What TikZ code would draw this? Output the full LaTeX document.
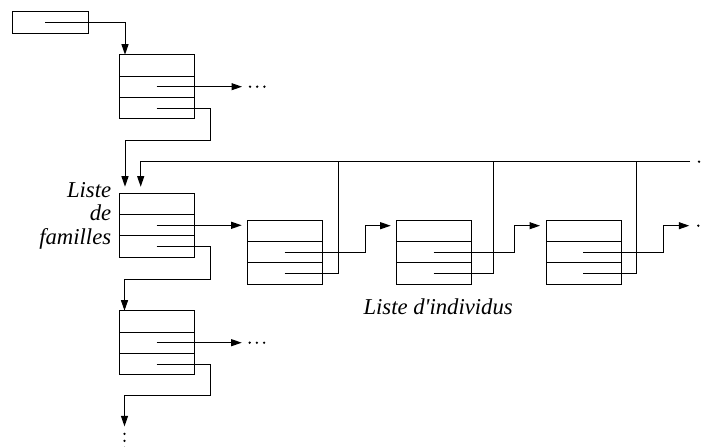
\documentclass[tikz,border=0pt]{standalone}
\usepackage{fontspec}
\setmainfont{Liberation Serif}
\usetikzlibrary{arrows.meta,calc}
\begin{document}
\begin{tikzpicture}[x=1pt,y=-1pt, line width=1pt,
 box/.style={draw, line width=1pt, minimum width=75pt, minimum height=64pt, inner sep=0pt, outer sep=0pt, anchor=north west},
 ptr/.style={-{Triangle[length=10.5pt,width=7pt]}},
 lbl/.style={font=\fontsize{22.7}{26}\selectfont\itshape, inner sep=0pt},
 dot/.style={fill, circle, inner sep=0pt, minimum size=2.6pt}]
\useasboundingbox (0,0) rectangle (704,447);

\node[draw, minimum width=76pt, minimum height=22pt, inner sep=0pt, outer sep=0pt, anchor=north west] (head) at (12,11.5) {};
\node[box] (f1) at (119.5,54.7) {};
\node[box] (f2) at (119.5,193.3) {};
\node[box] (f3) at (119.5,310.7) {};
\node[box] (i1) at (247.7,220) {};
\node[box] (i2) at (396.7,220) {};
\node[box] (i3) at (546,220) {};

\foreach \b in {f1,f2,f3,i1,i2,i3} {
  \draw ([yshift=-21.3pt]\b.north west) -- ([yshift=-21.3pt]\b.north east);
  \draw ([yshift=-42.6pt]\b.north west) -- ([yshift=-42.6pt]\b.north east);
  \coordinate (\b m) at ([shift={(37pt,-32pt)}]\b.north west);
  \coordinate (\b n) at ([shift={(37pt,-53.3pt)}]\b.north west);
}

% head pointer
\coordinate (hs) at ([xshift=-5pt]head.center);
\draw[ptr] (hs) -| ([xshift=5.5pt]f1.north west);

% family 1
\draw[ptr] (f1m) -- ++(85.5,0) coordinate (f1e);
\coordinate (f1j) at ($(f1.south east)+(15.5,21.3)$);
\draw[ptr, shorten >=6.6pt] (f1n) -| (f1j) -| ([xshift=5.5pt]f2.north west);
\foreach \d in {8,15.2,22.4} \node[dot] at ($(f1e)+(\d,0)$) {};

% top line of individuals
\coordinate (tl) at (140.7,161.7);
\coordinate (tr) at (690,161.7);
\draw[ptr, shorten >=6.6pt] (tr) -- (tl) -- (tl |- f2.north);
\node[dot] at ($(tr)+(9,0)$) {};

% family 2 -> individuals
\draw[ptr, shorten >=6pt] (f2m) -- (i1.west |- f2m);
\coordinate (i1j) at ($(i1.north east)+(42.7,5.7)$);
\coordinate (i2j) at ($(i2.north east)+(42.3,5.7)$);
\coordinate (i3j) at ($(i3.north east)+(42.3,5.7)$);
\draw[ptr, shorten >=6pt] (i1m) -| (i1j) -- (i2.west |- i1j);
\draw[ptr, shorten >=6pt] (i2m) -| (i2j) -- (i3.west |- i2j);
\draw[ptr] (i3m) -| (i3j) -- ++(26,0) coordinate (i3e);
\node[dot] at ($(i3e)+(9,0)$) {};

\coordinate (i1v) at ($(i1.east)+(16,0)$);
\coordinate (i2v) at ($(i2.east)+(21.6,0)$);
\coordinate (i3v) at ($(i3.east)+(15.6,0)$);
\draw (i1n) -| (i1v |- tl);
\draw (i2n) -| (i2v |- tl);
\draw (i3n) -| (i3v |- tl);

% family 2 -> family 3
\coordinate (f2j) at ($(f2.south east)+(15.5,21.7)$);
\draw[ptr] (f2n) -| (f2j) -| ([xshift=5pt]f3.north west);

% family 3
\draw[ptr] (f3m) -- ++(85.2,0) coordinate (f3e);
\foreach \d in {8,15.2,22.4} \node[dot] at ($(f3e)+(\d,0)$) {};
\coordinate (f3j) at ($(f3.south east)+(15.5,21)$);
\draw[ptr] (f3n) -| (f3j) -| ([xshift=5pt,yshift=-51.7pt]f3.south west) coordinate (f3e2);
\foreach \d in {7.5,14.5,21.5} \node[dot] at ($(f3e2)+(0,\d)$) {};

% labels
\node[lbl, anchor=base east] (l1) at (111.7,197) {Liste};
\node[lbl, anchor=base east] (l2) at (111.7,220.5) {de};
\node[lbl, anchor=base east] (l3) at (111.7,244) {familles};
\node[lbl, anchor=base west] (l4) at (363,314) {Liste d\textquotesingle individus};
\end{tikzpicture}
\end{document}
